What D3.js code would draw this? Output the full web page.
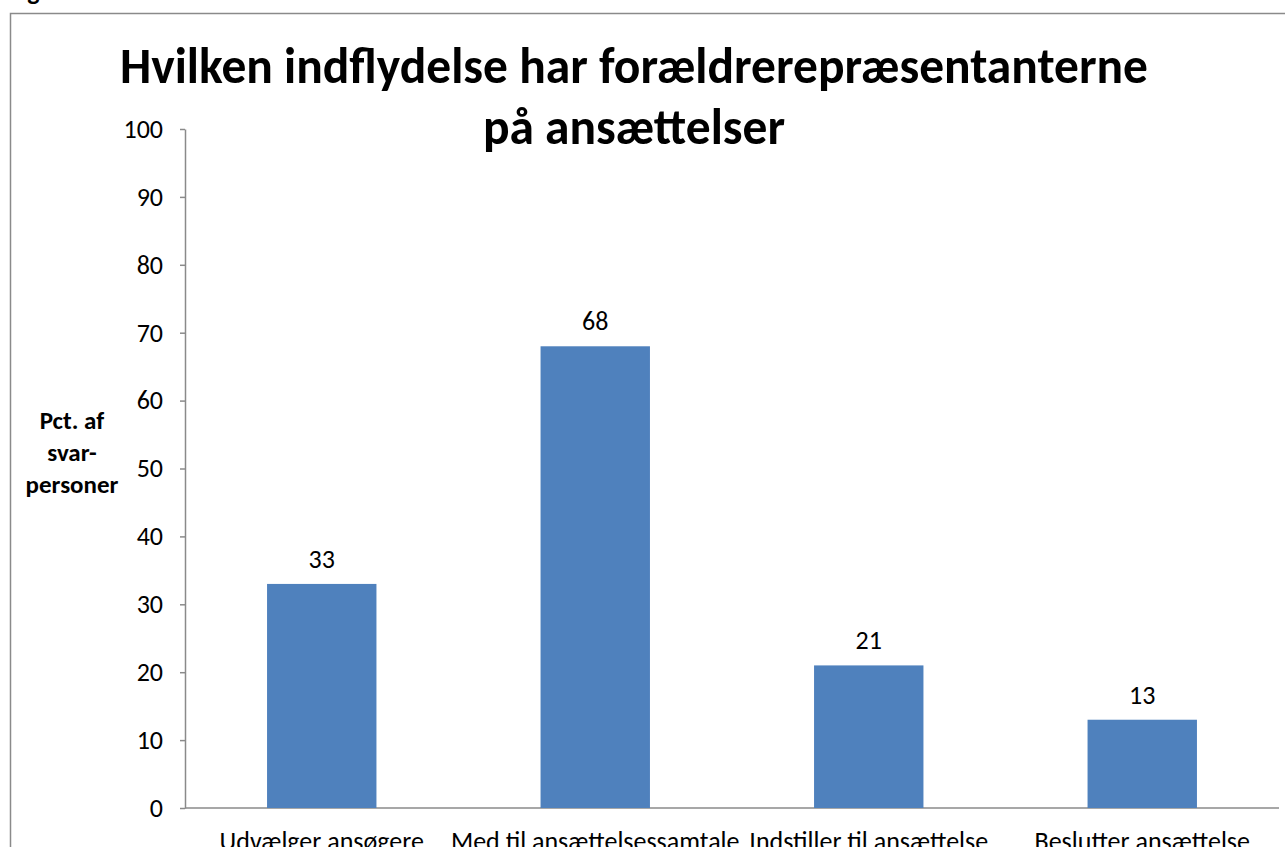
<!DOCTYPE html>
<html>
<head>
<meta charset="utf-8">
<script src="https://cdn.jsdelivr.net/npm/d3@7"></script>
<style>
  body { margin: 0; background: #fff; overflow: hidden; }
  svg { display: block; }
</style>
</head>
<body>
<svg id="chart" width="1285" height="847"></svg>
<script>
// Chart data
const categories = ['Udvælger ansøgere', 'Med til ansættelsessamtale', 'Indstiller til ansættelse', 'Beslutter ansættelse'];
const values = [33, 68, 21, 13];
const yTicks = [0, 10, 20, 30, 40, 50, 60, 70, 80, 90, 100];
const titleLines = ['Hvilken indflydelse har forældrerepræsentanterne', 'på ansættelser'];
const yLabelLines = ['Pct. af', 'svar-', 'personer'];

const svg = d3.select('#chart');
const font = 'Carlito, Calibri, "Liberation Sans", Arial, sans-serif';

// Plot area
const plotLeft = 185, plotRight = 1279, plotTop = 129, plotBottom = 808;

// Outer frame (partly cut off on right/bottom)
svg.append('rect')
    .attr('x', 10.5).attr('y', 13.5)
    .attr('width', 1300).attr('height', 900)
    .style('fill', 'none')
    .style('stroke', '#8a8a8a')
    .style('stroke-width', 1.5);

// caption above frame, only its descender shows
svg.append('text')
    .attr('x', 9).attr('y', 0)
    .style('font-family', font)
    .style('font-size', '26px')
    .style('font-weight', 'bold')
    .style('fill', '#000')
    .text('Figur');

const x = d3.scaleBand()
    .domain(categories)
    .range([plotLeft, plotRight])
    .paddingInner(0.6)
    .paddingOuter(0.3);

const y = d3.scaleLinear()
    .domain([0, 100])
    .range([plotBottom, plotTop]);

// Y axis
const yAxis = svg.append('g')
    .attr('transform', `translate(${plotLeft},0)`)
    .call(d3.axisLeft(y).tickValues(yTicks).tickSize(5).tickSizeOuter(0).tickPadding(17));
yAxis.select('.domain').style('stroke', '#8a8a8a').style('stroke-width', 1.5);
yAxis.selectAll('.tick line').style('stroke', '#8a8a8a').style('stroke-width', 1.5);
yAxis.selectAll('.tick text')
    .style('font-family', font)
    .style('font-size', '26px')
    .style('fill', '#000');

// X axis line
svg.append('line')
    .attr('x1', plotLeft).attr('x2', plotRight)
    .attr('y1', y(0)).attr('y2', y(0))
    .style('stroke', '#8a8a8a')
    .style('stroke-width', 1.5);

// Bars
svg.selectAll('.bar')
    .data(values)
    .enter()
    .append('rect')
    .attr('class', 'bar')
    .attr('x', (d, i) => x(categories[i]))
    .attr('width', x.bandwidth())
    .attr('y', d => y(d))
    .attr('height', d => y(0) - y(d))
    .style('fill', '#4F81BD');

// Value labels
svg.selectAll('.value-label')
    .data(values)
    .enter()
    .append('text')
    .attr('class', 'value-label')
    .attr('x', (d, i) => x(categories[i]) + x.bandwidth() / 2)
    .attr('y', d => y(d) - 16)
    .style('font-family', font)
    .style('font-size', '26px')
    .style('text-anchor', 'middle')
    .style('fill', '#000')
    .text(d => d);

// Category labels (cut by the bottom edge, as in the original)
svg.selectAll('.cat-label')
    .data(categories)
    .enter()
    .append('text')
    .attr('class', 'cat-label')
    .attr('x', d => x(d) + x.bandwidth() / 2)
    .attr('y', 850)
    .style('font-family', font)
    .style('font-size', '26px')
    .style('text-anchor', 'middle')
    .style('fill', '#000')
    .text(d => d);

// Title
svg.selectAll('.title-line')
    .data(titleLines)
    .enter()
    .append('text')
    .attr('class', 'title-line')
    .attr('x', 634)
    .attr('y', (d, i) => 83 + i * 61)
    .style('font-family', font)
    .style('font-size', '49.5px')
    .style('font-weight', 'bold')
    .style('text-anchor', 'middle')
    .style('fill', '#000')
    .text(d => d);

// Y axis title
svg.selectAll('.y-title')
    .data(yLabelLines)
    .enter()
    .append('text')
    .attr('class', 'y-title')
    .attr('x', 72)
    .attr('y', (d, i) => 429 + i * 32)
    .style('font-family', font)
    .style('font-size', '25px')
    .style('font-weight', 'bold')
    .style('text-anchor', 'middle')
    .style('fill', '#000')
    .text(d => d);
</script>
</body>
</html>
